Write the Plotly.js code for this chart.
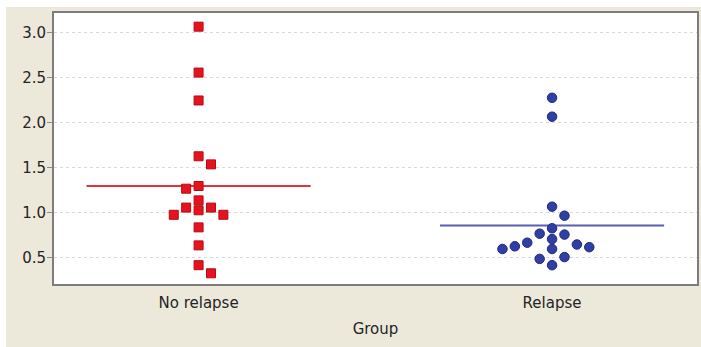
<!DOCTYPE html>
<html>
<head>
<meta charset="utf-8">
<script src="https://cdn.plot.ly/plotly-3.0.1.min.js"></script>
<style>
  html, body { margin: 0; padding: 0; background: #ffffff; }
  #chart { position: absolute; left: 6px; top: 7px; width: 695px; height: 340px; }
</style>
</head>
<body>
<div id="chart"></div>
<script>
// Group names shown on the x axis
const groups = ["No relapse", "Relapse"];

// Individual values per group
const noRelapseValues = [3.07, 2.56, 2.25, 1.63, 1.54, 1.30, 1.27, 1.14, 1.06, 1.06, 1.03, 0.98, 0.98, 0.84, 0.64, 0.42, 0.33];
const relapseValues = [2.28, 2.07, 1.07, 0.97, 0.83, 0.77, 0.76, 0.71, 0.67, 0.63, 0.60, 0.65, 0.62, 0.60, 0.49, 0.51, 0.42];

// Side-by-side column used to separate overlapping dots (0 = centre)
const noRelapseSlot = [0, 0, 0, 0, 1, 0, -1, 0, -1, 1, 0, -2, 2, 0, 0, 0, 1];
const relapseSlot = [0, 0, 0, 1, 0, -1, 1, 0, -2, -3, -4, 2, 3, 0, -1, 1, 0];

// Y axis ticks
const yTickValues = [0.5, 1.0, 1.5, 2.0, 2.5, 3.0];
const yTickLabels = ["0.5", "1.0", "1.5", "2.0", "2.5", "3.0"];

const slotStep = 0.0351;     // horizontal spacing between neighbouring dots
const meanHalfWidth = 0.317; // half length of the mean bar

function positions(groupIndex, slots) {
  return slots.map(s => groupIndex + s * slotStep);
}
function mean(arr) {
  return arr.reduce((a, b) => a + b, 0) / arr.length;
}

const redFill = "#e8121f";
const redEdge = "#b00e16";
const blueFill = "#2f3fa6";
const blueEdge = "#1f2a78";

const noRelapseMean = mean(noRelapseValues);
const relapseMean = mean(relapseValues);

const traces = [
  {
    type: "scatter", mode: "lines", hoverinfo: "skip",
    x: [0 - meanHalfWidth, 0 + meanHalfWidth],
    y: [noRelapseMean, noRelapseMean],
    line: { color: "#e2323c", width: 2 }
  },
  {
    type: "scatter", mode: "lines", hoverinfo: "skip",
    x: [1 - meanHalfWidth, 1 + meanHalfWidth],
    y: [relapseMean, relapseMean],
    line: { color: "#5a5fb0", width: 2 }
  },
  {
    type: "scatter", mode: "markers", name: groups[0],
    x: positions(0, noRelapseSlot),
    y: noRelapseValues,
    marker: { symbol: "square", size: 9, color: redFill, line: { color: redEdge, width: 1 } }
  },
  {
    type: "scatter", mode: "markers", name: groups[1],
    x: positions(1, relapseSlot),
    y: relapseValues,
    marker: { symbol: "circle", size: 9.5, color: blueFill, line: { color: blueEdge, width: 1 } }
  }
];

const axisFont = { family: "DejaVu Sans, Verdana, sans-serif", size: 15, color: "#242424" };

const layout = {
  width: 695,
  height: 340,
  margin: { l: 48, r: 4, t: 6, b: 63 },
  paper_bgcolor: "#ece9db",
  plot_bgcolor: "#ffffff",
  showlegend: false,
  font: axisFont,
  xaxis: {
    range: [-0.409, 1.41],
    tickmode: "array",
    tickvals: [0, 1],
    ticktext: groups,
    ticks: "",
    ticklabelstandoff: 4,
    showgrid: false,
    zeroline: false,
    showline: true,
    mirror: true,
    linecolor: "#7d7d7d",
    linewidth: 2,
    tickfont: axisFont,
    title: { text: "Group", font: axisFont, standoff: 12 }
  },
  yaxis: {
    range: [0.211, 3.222],
    tickmode: "array",
    tickvals: yTickValues,
    ticktext: yTickLabels,
    ticks: "outside",
    ticklen: 5,
    tickcolor: "#8a8a8a",
    tickfont: axisFont,
    ticklabelstandoff: -2,
    showgrid: true,
    gridcolor: "#d9d9d9",
    griddash: "dot",
    gridwidth: 1,
    zeroline: false,
    showline: true,
    mirror: true,
    linecolor: "#7d7d7d",
    linewidth: 2
  }
};

Plotly.newPlot("chart", traces, layout, { displayModeBar: false, staticPlot: true });
</script>
</body>
</html>
